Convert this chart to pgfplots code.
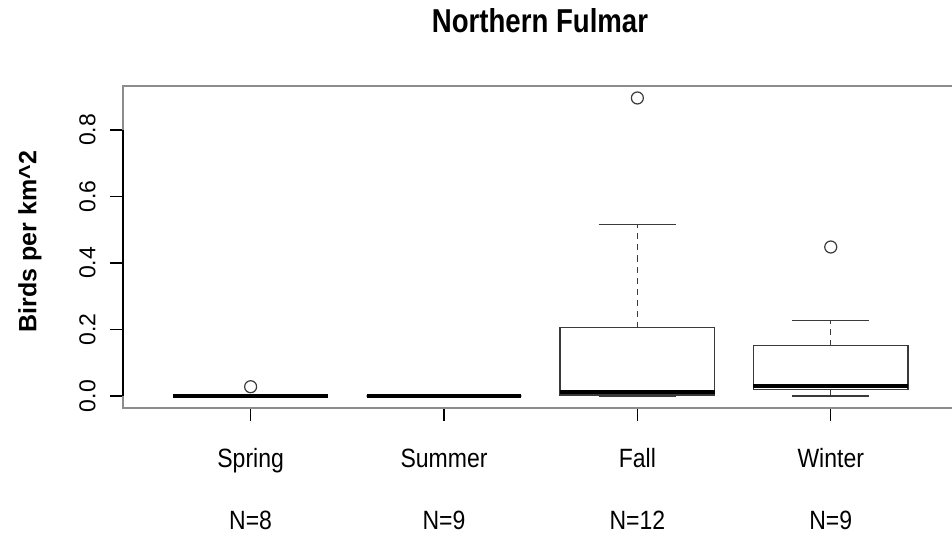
\documentclass[border=0pt]{standalone}
\usepackage{fontspec}
\setmainfont{Liberation Sans}
\usepackage{pgfplots}
\pgfplotsset{compat=1.18}
\usepgfplotslibrary{statistics}

\definecolor{framegray}{HTML}{8C8C8C}
\definecolor{boxgray}{HTML}{3A3A3A}

\pgfplotsset{
  rbox/.style={
    solid, draw=boxgray, line width=0.65pt, mark=o, mark size=3pt,
    mark options={draw=boxgray, line width=0.6pt, solid},
    boxplot/draw direction=y,
    boxplot/box extend=0.8,
    boxplot/whisker extend=0.4,
    boxplot/every median/.style={black, line width=2pt},
    boxplot/draw/lower whisker/.code={%
      \draw[boxgray, line width=0.65pt, dash pattern=on 3pt off 2.5pt]
        (boxplot box cs:\pgfplotsboxplotvalue{lower quartile},0.5)
        -- (boxplot box cs:\pgfplotsboxplotvalue{lower whisker},0.5);
      \draw[boxgray, line width=0.65pt]
        (boxplot whisker cs:\pgfplotsboxplotvalue{lower whisker},0)
        -- (boxplot whisker cs:\pgfplotsboxplotvalue{lower whisker},1);
    },
    boxplot/draw/upper whisker/.code={%
      \draw[boxgray, line width=0.65pt, dash pattern=on 3pt off 2.5pt]
        (boxplot box cs:\pgfplotsboxplotvalue{upper quartile},0.5)
        -- (boxplot box cs:\pgfplotsboxplotvalue{upper whisker},0.5);
      \draw[boxgray, line width=0.65pt]
        (boxplot whisker cs:\pgfplotsboxplotvalue{upper whisker},0)
        -- (boxplot whisker cs:\pgfplotsboxplotvalue{upper whisker},1);
    },
  },
}

\begin{document}
\begin{tikzpicture}
\begin{axis}[
    scale only axis,
    width=414.5pt, height=161pt,
    xmin=0.34, xmax=4.627,
    ymin=-0.036, ymax=0.932,
    axis line style={draw=none},
    tick align=outside,
    major tick length=6.5pt,
    tick style={black, line width=0.6pt},
    xtick={1,2,3,4},
    xticklabels={Spring,Summer,Fall,Winter},
    extra x ticks={1,2,3,4},
    extra x tick labels={N=8,N=9,N=12,N=9},
    extra x tick style={major tick length=0pt,
      xticklabel style={yshift=-32.5pt}},
    xticklabel style={font=\fontsize{11.5pt}{13pt}\selectfont, anchor=base, yshift=-23.3pt, yscale=1.15},
    ytick={0,0.2,0.4,0.6,0.8},
    yticklabel style={font=\fontsize{11.5pt}{13pt}\selectfont, rotate=90, anchor=center, yshift=11.25pt,
      /pgf/number format/.cd, fixed, fixed zerofill, precision=1},
    /pgf/number format/assume math mode=true,
    ytick pos=left, xtick pos=bottom,
    title={Northern Fulmar},
    title style={font=\fontsize{13.8pt}{16pt}\selectfont\bfseries,
      at={(rel axis cs:0.503,1)}, anchor=base, yshift=20.5pt, yscale=1.2},
    ylabel={Birds per km\string^2},
    ylabel style={font=\fontsize{12.5pt}{15pt}\selectfont\bfseries,
      at={(rel axis cs:0,0.517)}, anchor=center, yshift=46.5pt},
    clip=false,
]
% frame (right side falls outside the picture)
\draw[framegray, line width=0.6pt] (rel axis cs:1,0) -- (rel axis cs:0,0)
  -- (rel axis cs:0,1) -- (rel axis cs:1,1);
\draw[black, line width=0.6pt] (axis cs:0.34,0) -- (axis cs:0.34,0.8);
\draw[framegray, line width=0.6pt] (axis cs:1,-0.036) -- (axis cs:4,-0.036);

% Spring
\addplot+[rbox, boxplot prepared={draw position=1,
  lower whisker=0, lower quartile=0, median=0, upper quartile=0, upper whisker=0}]
  table[row sep=\\, y index=0] {0.028\\};
% Summer
\addplot+[rbox, boxplot prepared={draw position=2,
  lower whisker=0, lower quartile=0, median=0, upper quartile=0, upper whisker=0}]
  coordinates {};
% Fall
\addplot+[rbox, boxplot prepared={draw position=3,
  lower whisker=0, lower quartile=0.003, median=0.011, upper quartile=0.206, upper whisker=0.516}]
  table[row sep=\\, y index=0] {0.896\\};
% Winter
\addplot+[rbox, boxplot prepared={draw position=4,
  lower whisker=0, lower quartile=0.02, median=0.03, upper quartile=0.151, upper whisker=0.226}]
  table[row sep=\\, y index=0] {0.448\\};
\end{axis}
\pgfresetboundingbox
\useasboundingbox (-61.5pt,-66pt) rectangle (414.5pt,204pt);
\end{tikzpicture}
\end{document}
